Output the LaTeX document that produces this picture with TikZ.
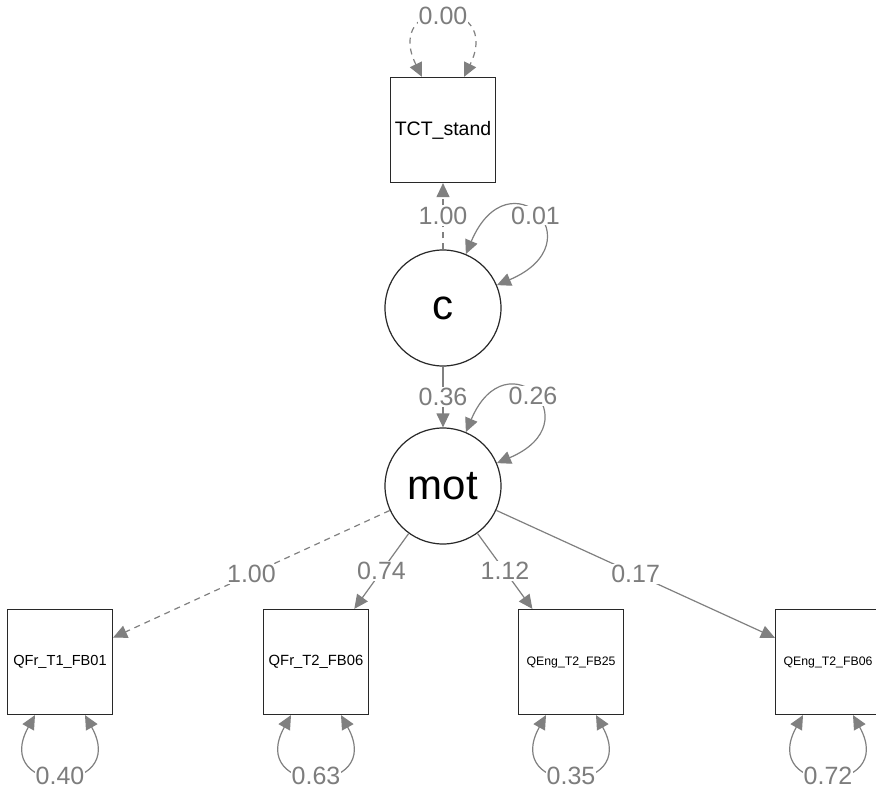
\documentclass[tikz,border=0pt]{standalone}
\usepackage{fontspec}
\setmainfont{Liberation Sans}
\usetikzlibrary{arrows.meta}
\definecolor{edgegray}{RGB}{128,128,128}
\definecolor{labgray}{RGB}{125,125,125}
\definecolor{bordergray}{RGB}{40,40,40}
\begin{document}
\begin{tikzpicture}[x=1pt,y=-1pt,
  >={Triangle[length=14pt,width=13pt]},
  edge/.style={draw=edgegray,fill=none,line width=1.2pt},
  dashedge/.style={edge,dash pattern=on 6pt off 5pt},
  lab/.style={fill=white,text=labgray,inner sep=1pt,font=\fontsize{25}{25}\selectfont},
  manifest/.style={draw=bordergray,line width=1.2pt,fill=white,minimum size=105pt,inner sep=0pt},
  latent/.style={draw=bordergray,line width=1.2pt,fill=white,circle,minimum size=116pt,inner sep=0pt,font=\fontsize{42}{42}\selectfont}
]
\clip (0,0) rectangle (876,789);
\fill[white] (0,0) rectangle (876,789);

\node[manifest,font=\fontsize{19.5}{19.5}\selectfont] (tct) at (443,130) {TCT\_stand};
\node[latent] (c) at (443,308) {c};
\node[latent] (mot) at (443,486) {mot};
\node[manifest,font=\fontsize{14.6}{14.6}\selectfont] (b1) at (60,662) {QFr\_T1\_FB01};
\node[manifest,font=\fontsize{14.8}{14.8}\selectfont] (b2) at (316,662) {QFr\_T2\_FB06};
\node[manifest,font=\fontsize{12.3}{12.3}\selectfont] (b3) at (571,662) {QEng\_T2\_FB25};
\node[manifest,font=\fontsize{12.3}{12.3}\selectfont] (b4) at (828,662) {QEng\_T2\_FB06};

% loadings / regressions
\draw[dashedge,->] (c) -- node[lab] {1.00} (tct);
\draw[edge,->] (c) -- node[lab] {0.36} (mot);
\draw[dashedge,->] (mot) -- node[lab] {1.00} (b1);
\draw[edge,->] (mot) -- node[lab] {0.74} (b2);
\draw[edge,->] (mot) -- node[lab] {1.12} (b3);
\draw[edge,->] (mot) -- node[lab] {0.17} (b4);

% variances
\draw[dashedge,<->] ([xshift=-21pt]tct.north) .. controls +(-40pt,81pt) and +(40pt,81pt) .. node[lab] {0.00} ([xshift=21pt]tct.north);
\draw[edge,<->] (c.67) .. controls +(67:110pt) and +(23:110pt) .. node[lab] {0.01} (c.23);
\draw[edge,<->] (mot.67) .. controls +(67:105pt) and +(23:105pt) .. node[lab] {0.26} (mot.23);
\foreach \b/\v in {b1/0.40,b2/0.63,b3/0.35,b4/0.72}{
  \draw[edge,<->] ([xshift=-25pt]\b.south) .. controls +(-45pt,-81pt) and +(45pt,-81pt) .. node[lab] {\v} ([xshift=25pt]\b.south);
}
\end{tikzpicture}
\end{document}
